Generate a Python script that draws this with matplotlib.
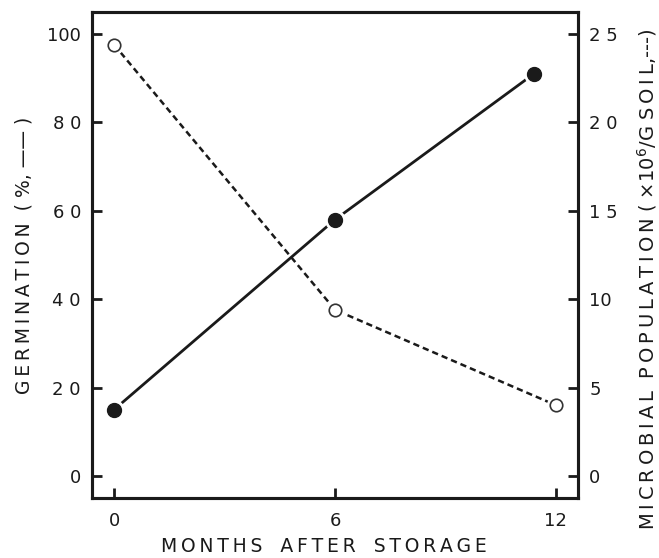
import matplotlib.pyplot as plt
import numpy as np

# germination (%) - solid line, filled circles
germ_months = [0, 6, 11.4]
germ_pct = [15, 58, 91]

# microbial population (x10^6 / g soil) - dashed line, open circles
micro_months = [0, 6, 12]
micro_pop = [24.4, 9.4, 4.0]

left_ticks = [0, 20, 40, 60, 80, 100]
left_labels = ['0', '2 0', '4 0', '6 0', '8 0', '100']
right_ticks = [0, 5, 10, 15, 20, 25]
right_labels = ['0', '5', '10', '1 5', '2 0', '2 5']
x_ticks = [0, 6, 12]

plt.rcParams['font.family'] = ['DejaVu Sans']

THIN = '\u2009'


def spaced(word):
    # wide lettering like the typeset axis titles
    return THIN.join(word)


fig = plt.figure(figsize=(6.59, 5.58), dpi=100)
ax = fig.add_axes([92 / 659, 60 / 558, 486 / 659, 486 / 558])
ax2 = ax.twinx()

# solid line with filled circles (white ring gives the small gap)
ax.plot(germ_months, germ_pct, color='#1a1a1a', lw=2, zorder=2)
ax.plot(germ_months, germ_pct, 'o', ms=14, color='white', zorder=3)
ax.plot(germ_months, germ_pct, 'o', ms=10, color='#1a1a1a', zorder=4)

ax2.plot(micro_months, micro_pop, color='#1a1a1a', lw=1.8, ls=(0, (2.5, 1.6)), zorder=2)
ax2.plot(micro_months, micro_pop, 'o', ms=13, color='white', zorder=3)
ax2.plot(micro_months, micro_pop, 'o', ms=9, mfc='white', mec='#333333', mew=1.2, zorder=4)

ax.set_xlim(-0.6, 12.6)
ax.set_ylim(-5, 105)
ax2.set_ylim(-1.25, 26.25)

ax.set_xticks(x_ticks)
ax.set_xticklabels([str(v) for v in x_ticks])
ax.set_yticks(left_ticks)
ax.set_yticklabels(left_labels)
ax2.set_yticks(right_ticks)
ax2.set_yticklabels(right_labels)

for a in (ax, ax2):
    a.tick_params(direction='in', length=7, width=2, labelsize=13, pad=8, colors='#1a1a1a')
    for s in a.spines.values():
        s.set_linewidth(2.2)
        s.set_color('#1a1a1a')
ax.tick_params(axis='x', pad=10)

xlab = '   '.join(spaced(w) for w in ['MONTHS', 'AFTER', 'STORAGE'])
ax.set_xlabel(xlab, fontsize=13.5, color='#1a1a1a')
ax.xaxis.set_label_coords(0.478, -0.08)
ax.set_ylabel(spaced('GERMINATION') + '  ( %, —— )', fontsize=13.5, labelpad=10,
              color='#1a1a1a')
rlab = (spaced('MICROBIAL') + '  ' + spaced('POPULATION')
        + r' ( $\times$10$^6$/G ' + spaced('SOIL') + ',---)')
ax2.set_ylabel(rlab, fontsize=14, color='#1a1a1a')
ax2.yaxis.set_label_coords(1.118, 0.45)

fig.savefig('out.png', dpi=100)
